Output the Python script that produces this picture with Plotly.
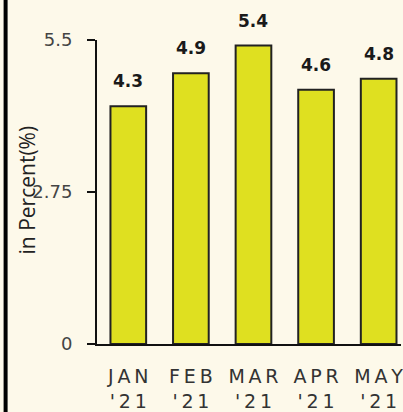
import plotly.graph_objects as go

months = ["JAN", "FEB", "MAR", "APR", "MAY"]
years = ["'21", "'21", "'21", "'21", "'21"]
values = [4.3, 4.9, 5.4, 4.6, 4.8]
y_ticks = [0, 2.75, 5.5]
y_tick_labels = ["0", "2.75", "5.5"]
y_title = "in Percent(%)"

TS = "\u2009"  # thin space for the wide letter spacing of the labels
def spaced(s):
    return TS.join(list(s))

tick_text = [f"{spaced(m)}<br>{spaced(y)}" for m, y in zip(months, years)]
x = list(range(len(months)))

bg = "#fdf9ea"
L, R, T, B = 97, 0, 40, 68
W, H = 403, 412
pw, ph = W - L - R, H - T - B

fig = go.Figure()
fig.add_trace(go.Bar(
    x=x, y=values,
    marker=dict(color="#dfe020", line=dict(color="#222222", width=2)),
    width=0.57,
    hoverinfo="skip",
))

for xi, v in zip(x, values):
    fig.add_annotation(
        x=xi, y=v, text=f"<b>{v}</b>", showarrow=False,
        yanchor="bottom", yshift=13,
        font=dict(family="DejaVu Sans", size=17, color="#1a1a1a"),
    )

fig.add_annotation(
    xref="paper", yref="paper", x=(27 - L) / pw, y=(344 - 190) / ph,
    text=y_title, textangle=-90, showarrow=False,
    xanchor="center", yanchor="middle",
    font=dict(family="Open Sans", size=21, color="#222222"),
)

fig.update_layout(
    width=W, height=H,
    margin=dict(l=L, r=R, t=T, b=B),
    paper_bgcolor=bg, plot_bgcolor=bg,
    showlegend=False,
    xaxis=dict(
        range=[-0.5, 4.357],
        tickmode="array", tickvals=x, ticktext=tick_text,
        showline=True, linecolor="#111111", linewidth=2,
        showgrid=False, zeroline=False, ticks="",
        ticklabelstandoff=14, ticklabeloverflow="allow",
        tickfont=dict(family="DejaVu Sans", size=19, color="#333333"),
    ),
    yaxis=dict(
        range=[0, 5.5],
        tickmode="array", tickvals=y_ticks, ticktext=y_tick_labels,
        showline=True, linecolor="#111111", linewidth=2,
        showgrid=False, zeroline=False,
        ticks="outside", ticklen=8, tickwidth=2, tickcolor="#111111",
        ticklabelstandoff=11,
        tickfont=dict(family="DejaVu Sans", size=18, color="#444444"),
    ),
)

fig.add_shape(type="line", xref="paper", yref="paper",
              x0=-(L - 5) / pw, x1=-(L - 5) / pw, y0=-B / ph, y1=1 + T / ph,
              line=dict(color="#000000", width=4))

fig.write_html("out.html", config={"displayModeBar": False},
               post_script="document.body.style.margin='0';")
